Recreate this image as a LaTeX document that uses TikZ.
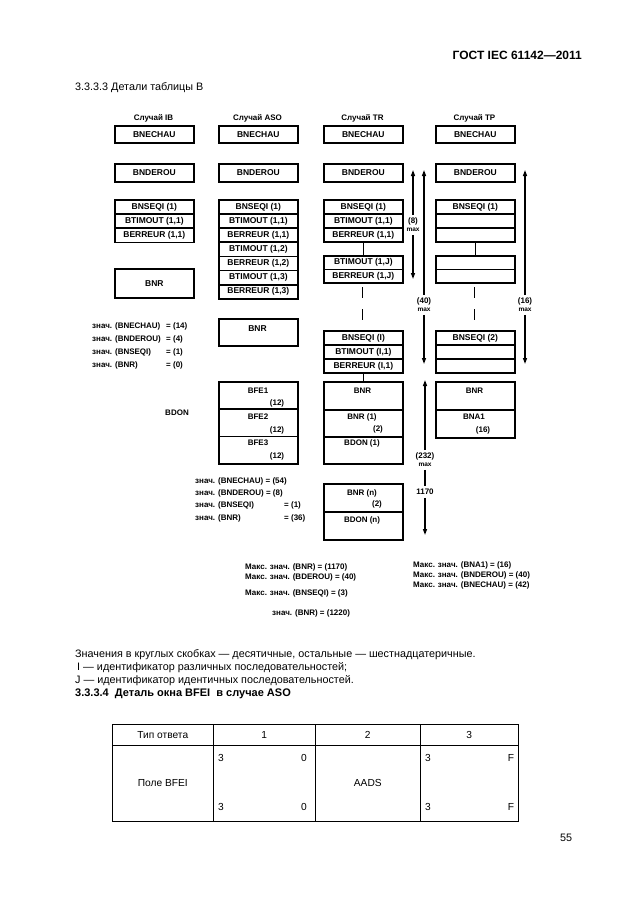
\documentclass[tikz,border=0pt]{standalone}
\usepackage{fontspec}
\setmainfont{Liberation Sans}
\usetikzlibrary{arrows.meta}
\begin{document}
\begin{tikzpicture}[x=1pt,y=-1pt,
  sm/.style={font=\fontsize{8}{10}\selectfont\bfseries, inner sep=0pt},
  smw/.style={sm, anchor=west},
  cell/.style={draw, line width=1.7pt, minimum width=79pt, minimum height=#1, anchor=north west, inner sep=0pt, font=\fontsize{8.5}{10}\selectfont\bfseries},
  conn/.style={line width=1.7pt},
  arr/.style={line width=1.3pt, -{Triangle[length=6pt,width=4pt]}},
  aline/.style={line width=1.3pt},
  alab/.style={font=\fontsize{8}{10}\selectfont\bfseries, inner sep=0pt, outer sep=3pt, align=center},
  body/.style={font=\fontsize{10.8}{12}\selectfont, inner sep=0pt, anchor=west},
  tcell/.style={draw, line width=0.6pt, anchor=north west, inner sep=0pt, font=\fontsize{10.2}{12}\selectfont},
  ttext/.style={font=\fontsize{10.2}{12}\selectfont, inner sep=0pt}]
\useasboundingbox[fill=white] (0,0) rectangle (630,913);

% header
\node[font=\fontsize{12}{14}\selectfont\bfseries, inner sep=0pt, anchor=east] (hdr) at (582,55) {ГОСТ IEC 61142—2011};
\node[body] (sec) at (75,88) {3.3.3.3 Детали таблицы В};

% column headers
\node[sm] (hIB) at (153.5,118) {Случай IB};
\node[sm] (hASO) at (257.5,118) {Случай ASO};
\node[sm] (hTR) at (362.5,118) {Случай TR};
\node[sm] (hTP) at (474.5,118) {Случай TP};

% BNECHAU / BNDEROU
\node[cell=17pt] (ibA) at (114,125) {BNECHAU};
\node[cell=17pt] (asoA) at (218,125) {BNECHAU};
\node[cell=17pt] (trA) at (323,125) {BNECHAU};
\node[cell=17pt] (tpA) at (435,125) {BNECHAU};
\node[cell=18pt] (ibB) at (114,163) {BNDEROU};
\node[cell=18pt] (asoB) at (218,163) {BNDEROU};
\node[cell=18pt] (trB) at (323,163) {BNDEROU};
\node[cell=18pt] (tpB) at (435,163) {BNDEROU};

% IB
\node[cell=14.2pt] (ib1) at (114,199) {BNSEQI (1)};
\node[cell=14.2pt] (ib2) at (114,213.2) {BTIMOUT (1,1)};
\node[cell=14.2pt] (ib3) at (114,227.4) {BERREUR (1,1)};
\node[cell=29pt] (ibN) at (114,268) {BNR};

% ASO
\node[cell=14.14pt] (aso1) at (218,199) {BNSEQI (1)};
\node[cell=14.14pt] (aso2) at (218,213.14) {BTIMOUT (1,1)};
\node[cell=14.14pt] (aso3) at (218,227.29) {BERREUR (1,1)};
\node[cell=14.14pt] (aso4) at (218,241.43) {BTIMOUT (1,2)};
\node[cell=14.14pt] (aso5) at (218,255.57) {BERREUR (1,2)};
\node[cell=14.14pt] (aso6) at (218,269.71) {BTIMOUT (1,3)};
\node[cell=14.14pt] (aso7) at (218,283.86) {BERREUR (1,3)};
\node[cell=27pt] (asoN) at (218,318) {};
\node[sm, font=\fontsize{8.5}{10}\selectfont\bfseries] (asoNt) at (257.5,329) {BNR};
\node[cell=27.3pt] (bfe1) at (218,381) {};
\node[cell=27.3pt] (bfe2) at (218,408.3) {};
\node[cell=27.3pt] (bfe3) at (218,435.6) {};
\node[sm] (bfe1t) at (258,391) {BFE1};
\node[sm] (bfe1n) at (277,403) {(12)};
\node[sm] (bfe2t) at (258,417) {BFE2};
\node[sm] (bfe2n) at (277,430) {(12)};
\node[sm] (bfe3t) at (258,443) {BFE3};
\node[sm] (bfe3n) at (277,456) {(12)};
\node[sm] (bdon) at (177,413) {BDON};

% TR
\node[cell=14.14pt] (tr1) at (323,199) {BNSEQI (1)};
\node[cell=14.14pt] (tr2) at (323,213.14) {BTIMOUT (1,1)};
\node[cell=14.14pt] (tr3) at (323,227.29) {BERREUR (1,1)};
\node[cell=13.5pt] (tr4) at (323,255) {BTIMOUT (1,J)};
\node[cell=13.5pt] (tr5) at (323,268.5) {BERREUR (1,J)};
\draw[conn] (tr3.south) -- (tr4.north);
\coordinate (trd1) at (362.5,287);
\coordinate (trd2) at (362.5,320);
\draw[conn, dash pattern=on 11pt off 11pt] (trd1) -- (trd2);
\node[cell=14pt] (tr6) at (323,330) {BNSEQI (I)};
\node[cell=14pt] (tr7) at (323,344) {BTIMOUT (I,1)};
\node[cell=14pt] (tr8) at (323,358) {BERREUR (I,1)};
\node[cell=28pt] (tr9) at (323,381) {};
\node[cell=27pt] (tr10) at (323,409) {};
\node[cell=27pt] (tr11) at (323,436) {};
\draw[conn] (tr8.south) -- (tr9.north);
\node[sm] (tr9t) at (362.5,391) {BNR};
\node[sm] (tr10t) at (362,417) {BNR (1)};
\node[sm] (tr10n) at (378,429) {(2)};
\node[sm] (tr11t) at (362,443) {BDON (1)};
\node[cell=28pt] (tr12) at (323,483) {};
\node[cell=28pt] (tr13) at (323,511) {};
\node[sm] (tr12t) at (362,493) {BNR (n)};
\node[sm] (tr12n) at (377,504) {(2)};
\node[sm] (tr13t) at (362,520) {BDON (n)};

% TP
\node[cell=14.14pt] (tp1) at (435,199) {BNSEQI (1)};
\node[cell=14.14pt] (tp2) at (435,213.14) {};
\node[cell=14.14pt] (tp3) at (435,227.29) {};
\node[cell=13.5pt] (tp4) at (435,255) {};
\node[cell=13.5pt] (tp5) at (435,268.5) {};
\draw[conn] (tp3.south) -- (tp4.north);
\coordinate (tpd1) at (474.5,287);
\coordinate (tpd2) at (474.5,320);
\draw[conn, dash pattern=on 11pt off 11pt] (tpd1) -- (tpd2);
\node[cell=14pt] (tp6) at (435,330) {BNSEQI (2)};
\node[cell=14pt] (tp7) at (435,344) {};
\node[cell=14pt] (tp8) at (435,358) {};
\node[cell=28pt] (tp9) at (435,381) {};
\node[cell=28pt] (tp10) at (435,409) {};
\node[sm] (tp9t) at (474.5,391) {BNR};
\node[sm] (tp10t) at (474,417) {BNA1};
\node[sm] (tp10n) at (483,430) {(16)};

% arrows
\node[alab] (a8l) at (413,225) {(8)\\[-2pt]{\fontsize{6.5}{7}\selectfont max}};
\coordinate (a8t) at (413,170);
\coordinate (a8b) at (413,279);
\draw[arr] (a8l) -- (a8t);
\draw[arr] (a8l) -- (a8b);
\node[alab] (a40l) at (424,305) {(40)\\[-2pt]{\fontsize{6.5}{7}\selectfont max}};
\coordinate (a40t) at (424,170);
\coordinate (a40b) at (424,364);
\draw[arr] (a40l) -- (a40t);
\draw[arr] (a40l) -- (a40b);
\node[alab] (a16l) at (525,305) {(16)\\[-2pt]{\fontsize{6.5}{7}\selectfont max}};
\coordinate (a16t) at (525,170);
\coordinate (a16b) at (525,364);
\draw[arr] (a16l) -- (a16t);
\draw[arr] (a16l) -- (a16b);
\node[alab] (a232l) at (425,460) {(232)\\[-2pt]{\fontsize{6.5}{7}\selectfont max}};
\node[alab] (a1170) at (425,492) {1170};
\coordinate (a232t) at (425,380);
\coordinate (a232b) at (425,535);
\draw[arr] (a232l) -- (a232t);
\draw[aline] (a232l) -- (a1170);
\draw[arr] (a1170) -- (a232b);

% left value texts (IB)
\node[smw] (v1) at (92,326) {знач. (BNECHAU)};
\node[smw] (v1e) at (166,326) {= (14)};
\node[smw] (v2) at (92,339) {знач. (BNDEROU)};
\node[smw] (v2e) at (166,339) {= (4)};
\node[smw] (v3) at (92,352) {знач. (BNSEQI)};
\node[smw] (v3e) at (166,352) {= (1)};
\node[smw] (v4) at (92,365) {знач. (BNR)};
\node[smw] (v4e) at (166,365) {= (0)};

% ASO value texts
\node[smw] (w1) at (195,481) {знач. (BNECHAU) = (54)};
\node[smw] (w2) at (195,493) {знач. (BNDEROU) = (8)};
\node[smw] (w3) at (195,505) {знач. (BNSEQI)};
\node[smw] (w3e) at (284,505) {= (1)};
\node[smw] (w4) at (195,518) {знач. (BNR)};
\node[smw] (w4e) at (284,518) {= (36)};

% max values
\node[smw] (m1) at (245,567) {Макс. знач. (BNR) = (1170)};
\node[smw] (m2) at (245,577) {Макс. знач. (BDEROU) = (40)};
\node[smw] (m3) at (245,593) {Макс. знач. (BNSEQI) = (3)};
\node[smw] (m4) at (272,613) {знач. (BNR) = (1220)};
\node[smw] (p1) at (413,565) {Макс. знач. (BNA1) = (16)};
\node[smw] (p2) at (413,575) {Макс. знач. (BNDEROU) = (40)};
\node[smw] (p3) at (413,585) {Макс. знач. (BNECHAU) = (42)};

% body text
\node[body] (b1) at (75,655) {Значения в круглых скобках — десятичные, остальные — шестнадцатеричные.};
\node[body] (b2) at (77,668) {I — идентификатор различных последовательностей;};
\node[body] (b3) at (75,681) {J — идентификатор идентичных последовательностей.};
\node[body, font=\fontsize{11}{12}\selectfont\bfseries] (b4) at (75,694) {3.3.3.4\ \ Деталь окна BFEI\ \ в случае ASO};

% table
\node[tcell, minimum width=101pt, minimum height=21pt] (t00) at (112,724) {Тип ответа};
\node[tcell, minimum width=102pt, minimum height=21pt] (t01) at (213,724) {1};
\node[tcell, minimum width=105pt, minimum height=21pt] (t02) at (315,724) {2};
\node[tcell, minimum width=98pt, minimum height=21pt] (t03) at (420,724) {3};
\node[tcell, minimum width=101pt, minimum height=76pt] (t10) at (112,745) {Поле BFEI};
\node[tcell, minimum width=102pt, minimum height=76pt] (t11) at (213,745) {};
\node[tcell, minimum width=105pt, minimum height=76pt] (t12) at (315,745) {AADS};
\node[tcell, minimum width=98pt, minimum height=76pt] (t13) at (420,745) {};
\node[ttext] (c1a) at (221,758) {3};
\node[ttext] (c1b) at (304,758) {0};
\node[ttext] (c1c) at (221,807) {3};
\node[ttext] (c1d) at (304,807) {0};
\node[ttext] (c3a) at (428,758) {3};
\node[ttext] (c3b) at (511,758) {F};
\node[ttext] (c3c) at (428,807) {3};
\node[ttext] (c3d) at (511,807) {F};

\node[font=\fontsize{10.8}{12}\selectfont, inner sep=0pt] (pg) at (566,838) {55};
\end{tikzpicture}
\end{document}
